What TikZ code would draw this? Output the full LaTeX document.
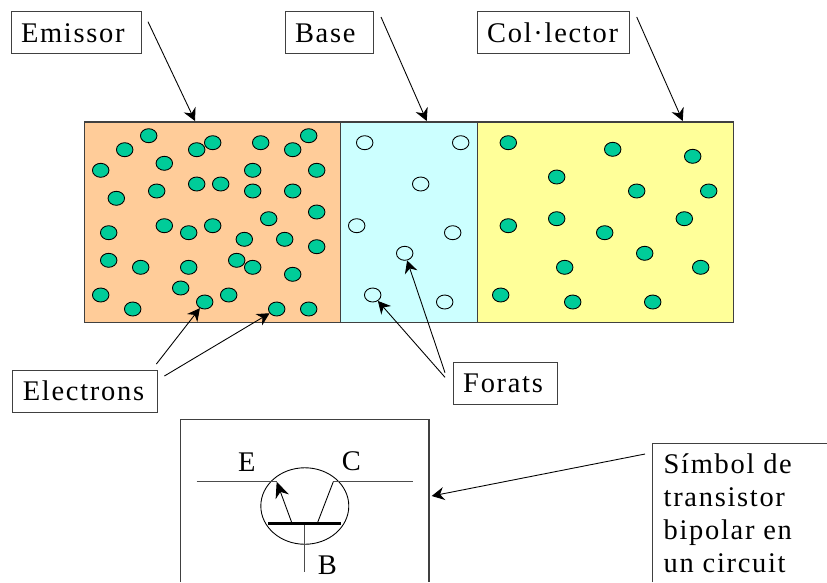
\documentclass[tikz,border=0pt]{standalone}
\usepackage{fontspec}
\setmainfont{Liberation Serif}[LetterSpace=6]
\usepackage{tikz}
\usetikzlibrary{arrows.meta,shapes.geometric}
\definecolor{emicol}{HTML}{FFCC99}
\definecolor{bascol}{HTML}{CCFFFF}
\definecolor{colcol}{HTML}{FFFF99}
\definecolor{elecol}{HTML}{00CC99}
\tikzset{
  region/.style   = {draw=black!75, line width=0.6pt},
  lab/.style      = {draw=black!75, line width=0.6pt, fill=white, anchor=north west, inner xsep=0.2cm, inner ysep=0pt,
                     minimum height=0.84cm, align=left, text width=#1, font=\fontsize{16.2}{18.8}\selectfont},
  pin/.style      = {font=\fontsize{16.2}{18.8}\selectfont, inner sep=0pt},
  electron/.style = {ellipse, draw=black, fill=elecol, line width=0.5pt, minimum width=0.33cm, minimum height=0.28cm, inner sep=0pt},
  hole/.style     = {electron, fill=none},
  arrowto/.style  = {-{Stealth[length=2.5mm,width=2.6mm]}, draw=black, line width=0.5pt},
  wire/.style     = {draw=black!70, line width=0.6pt},
}
\begin{document}
\begin{tikzpicture}[x=0.02cm,y=-0.02cm]
  \useasboundingbox (0,0) rectangle (827,582);

  % crystal
  \draw[region, fill=emicol] (84.7,122) rectangle (340.7,322.7);
  \draw[region, fill=bascol] (340.7,122) rectangle (477.3,322.7);
  \draw[region, fill=colcol] (477.3,122) rectangle (733.3,322.7);

  % carriers
  \foreach \x/\y [count=\i] in {148.7/135.7, 124.7/149.7, 100.7/170.3, 164.3/163.3, 116.3/198.3, 156.7/191,
    196.7/149.7, 212.7/142.7, 260.7/142.7, 292.7/149.7, 308.7/135.7, 252.7/170.3, 316.7/170.3,
    196.7/184, 220.7/184, 252.7/191, 292.7/191, 316.7/212, 268.7/218.7, 108.7/232.7, 164.3/225.7,
    188.7/232.7, 212.7/225.7, 244.3/239.3, 284.7/239.3, 316.7/246.7, 108.7/260.3, 140.7/267.3,
    188.7/267.3, 236.7/260.3, 252.7/267.3, 292.7/274.3, 180.7/288, 100.7/295, 132.7/309,
    204.7/302, 228.7/295, 276.7/309, 308.7/309} {
    \node[electron] (em\i) at (\x,\y) {};
  }
  \foreach \x/\y [count=\i] in {364.7/142.7, 460.7/142.7, 420.7/184, 356.7/225.7, 452.7/232.7,
    404.7/253.3, 372.7/295, 444.7/302} {
    \node[hole] (fo\i) at (\x,\y) {};
  }
  \foreach \x/\y [count=\i] in {508.3/142.7, 612.7/149.3, 692.7/156.3, 556.7/177, 636.7/191, 708.7/191,
    556.7/218.7, 508.3/225.7, 604.7/232.7, 684.3/218.7, 644.7/253.3, 564.7/267.3, 700.7/267.3,
    500.7/295, 572.7/302, 652.7/302} {
    \node[electron] (co\i) at (\x,\y) {};
  }

  % labels
  \node[lab=2.21cm] (emissor) at (10.5,11.3) {Emissor};
  \node[lab=1.37cm] (base) at (284.5,11.3) {Base};
  \node[lab=2.65cm] (collector) at (476.7,11.3) {Col·lector};
  \node[lab=2.49cm] (electrons) at (12.4,369.5) {Electrons};
  \node[lab=1.69cm] (forats) at (452.7,361.7) {Forats};

  % free ends
  \coordinate (emfrom) at (148,21.7);
  \coordinate (emto) at (195,121);
  \coordinate (bafrom) at (381,17);
  \coordinate (bato) at (426.7,121);
  \coordinate (cofrom) at (636.7,17);
  \coordinate (coto) at (682.7,121);
  \coordinate (elfroma) at (156.4,364);
  \coordinate (elfromb) at (164.4,376);
  \coordinate (fofroma) at (445,377.3);
  \coordinate (fofromb) at (445,372.7);
  \coordinate (sifrom) at (645,454);
  \coordinate (sito) at (431.7,496);

  \draw[arrowto] (emfrom) -- (emto);
  \draw[arrowto] (bafrom) -- (bato);
  \draw[arrowto] (cofrom) -- (coto);
  \draw[arrowto] (elfroma) -- (em36);
  \draw[arrowto] (elfromb) -- (em38);
  \draw[arrowto] (fofroma) -- (fo7);
  \draw[arrowto] (fofromb) -- (fo6);
  \draw[arrowto] (sifrom) -- (sito);

  % symbol frame
  \draw[region] (180.7,582) |- (429,419.3) -- (429,582);
  \node[ellipse, draw=black, line width=0.5pt, minimum width=1.76cm, minimum height=1.53cm, inner sep=0pt] (tr) at (304.8,506) {};
  \coordinate (ewire) at (196.7,481.7);
  \coordinate (ejoin) at (276.7,481.7);
  \coordinate (cwire) at (412.7,481.7);
  \coordinate (cjoin) at (333.3,481.7);
  \coordinate (barl) at (268.3,523.3);
  \coordinate (barr) at (340.7,523.3);
  \coordinate (bjoin) at (304.7,523.3);
  \coordinate (bend) at (304.7,571.7);
  \coordinate (efoot) at (292,523.3);
  \coordinate (cfoot) at (317.3,523.3);
  \draw[wire] (ewire) -- (ejoin);
  \draw[wire] (cjoin) -- (cwire);
  \draw[wire] (bjoin) -- (bend);
  \draw[arrowto, -{Stealth[length=3.2mm,width=2.8mm]}] (efoot) -- (ejoin);
  \draw[draw=black, line width=0.5pt] (cfoot) -- (cjoin);
  \draw[draw=black, line width=1.6pt] (barl) -- (barr);
  \node[pin] (elabel) at (246.7,461.7) {E};
  \node[pin] (clabel) at (351.3,461.7) {C};
  \node[pin] (blabel) at (327.3,565.3) {B};

  % symbol caption
  \draw[region] (652.7,582) |- (827,443.3);
  \node[pin, anchor=north west, align=left] (caption) at (663.3,453) {Símbol de\\transistor\\bipolar en\\un circuit};
\end{tikzpicture}
\end{document}
